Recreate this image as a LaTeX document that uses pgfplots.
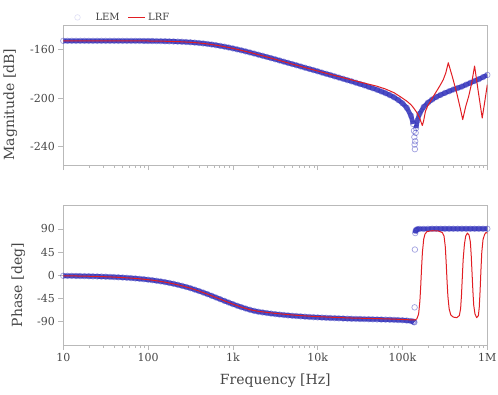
\documentclass[border=0pt]{standalone}
\usepackage{pgfplots}
\pgfplotsset{compat=1.18}
\usepackage{pgfplotstable}
\usepackage{fontspec}
\setmainfont{DejaVu Serif}
\definecolor{lemblue}{RGB}{45,45,185}
\definecolor{lrfred}{RGB}{225,30,35}
\definecolor{framegray}{RGB}{185,185,185}
\definecolor{labelgray}{RGB}{70,70,70}

\pgfplotstableread{
f mag mline ph pline
1e1 -153.00 -153.00 -0.84 -0.84
1.122e1 -153.00 -153.00 -0.94 -0.94
1.259e1 -153.00 -153.00 -1.06 -1.06
1.413e1 -153.00 -153.00 -1.19 -1.19
1.585e1 -153.00 -153.00 -1.34 -1.34
1.778e1 -153.00 -153.00 -1.50 -1.50
1.995e1 -153.01 -153.01 -1.68 -1.68
2.239e1 -153.01 -153.01 -1.89 -1.89
2.512e1 -153.01 -153.01 -2.12 -2.12
2.818e1 -153.01 -153.01 -2.38 -2.38
3.162e1 -153.01 -153.01 -2.66 -2.66
3.548e1 -153.02 -153.02 -2.99 -2.99
3.981e1 -153.02 -153.02 -3.35 -3.35
4.467e1 -153.03 -153.03 -3.76 -3.76
5.012e1 -153.04 -153.04 -4.22 -4.22
5.623e1 -153.04 -153.04 -4.73 -4.73
6.310e1 -153.06 -153.06 -5.31 -5.31
7.079e1 -153.07 -153.07 -5.95 -5.95
7.943e1 -153.09 -153.09 -6.67 -6.67
8.913e1 -153.11 -153.11 -7.47 -7.47
1e2 -153.14 -153.14 -8.37 -8.37
1.122e2 -153.17 -153.17 -9.38 -9.38
1.259e2 -153.21 -153.21 -10.50 -10.50
1.413e2 -153.27 -153.27 -11.74 -11.74
1.585e2 -153.34 -153.34 -13.13 -13.13
1.778e2 -153.42 -153.42 -14.67 -14.67
1.995e2 -153.52 -153.52 -16.37 -16.37
2.239e2 -153.65 -153.65 -18.24 -18.24
2.512e2 -153.80 -153.80 -20.30 -20.30
2.818e2 -153.98 -153.98 -22.53 -22.53
3.162e2 -154.20 -154.20 -24.96 -24.96
3.548e2 -154.47 -154.47 -27.58 -27.58
3.981e2 -154.78 -154.78 -30.37 -30.37
4.467e2 -155.14 -155.14 -33.33 -33.33
5.012e2 -155.56 -155.56 -36.42 -36.42
5.623e2 -156.03 -156.03 -39.62 -39.62
6.310e2 -156.56 -156.56 -42.88 -42.88
7.079e2 -157.15 -157.15 -46.18 -46.18
7.943e2 -157.79 -157.79 -49.45 -49.45
8.913e2 -158.49 -158.49 -52.68 -52.68
1e3 -159.22 -159.22 -55.81 -55.81
1.122e3 -160.01 -160.01 -58.81 -58.81
1.259e3 -160.82 -160.82 -61.65 -61.65
1.413e3 -161.67 -161.67 -64.31 -64.31
1.585e3 -162.55 -162.55 -66.70 -66.70
1.778e3 -163.45 -163.45 -68.80 -68.80
1.995e3 -164.37 -164.37 -70.50 -70.50
2.239e3 -165.30 -165.30 -71.80 -71.80
2.512e3 -166.24 -166.24 -73.00 -73.00
2.818e3 -167.21 -167.21 -74.10 -74.10
3.162e3 -168.17 -168.17 -75.10 -75.10
3.548e3 -169.15 -169.15 -76.00 -76.00
3.981e3 -170.13 -170.13 -76.80 -76.80
4.467e3 -171.11 -171.11 -77.60 -77.60
5.012e3 -172.10 -172.10 -78.30 -78.30
5.623e3 -173.08 -173.08 -78.90 -78.90
6.310e3 -174.07 -174.07 -79.50 -79.50
7.079e3 -175.07 -175.07 -80.10 -80.10
7.943e3 -176.05 -176.05 -80.60 -80.60
8.913e3 -177.06 -177.06 -81.10 -81.10
1e4 -178.05 -178.05 -81.50 -81.50
1.122e4 -179.10 -179.10 -81.90 -81.90
1.259e4 -180.10 -180.10 -82.30 -82.30
1.413e4 -181.10 -181.10 -82.70 -82.70
1.585e4 -182.20 -182.20 -83.00 -83.00
1.778e4 -183.20 -183.20 -83.30 -83.30
1.995e4 -184.20 -184.20 -83.60 -83.60
2.239e4 -185.30 -185.30 -83.90 -83.90
2.512e4 -186.30 -186.30 -84.20 -84.20
2.818e4 -187.40 -187.40 -84.40 -84.40
3.162e4 -188.50 -188.50 -84.60 -84.60
3.548e4 -189.60 -189.60 -84.80 -84.80
3.981e4 -190.80 -190.80 -85.00 -85.00
4.467e4 -192.00 -192.00 -85.20 -85.20
5.012e4 -193.20 -193.20 -85.40 -85.40
5.623e4 -194.60 -194.60 -85.60 -85.60
6.310e4 -196.00 -196.00 -85.80 -85.80
7.079e4 -197.60 -197.60 -86.00 -86.00
7.943e4 -199.40 -199.40 -86.30 -86.30
8.913e4 -201.60 -201.60 -86.60 -86.60
1e5 -204.30 -204.30 -87.00 -87.00
1.122e5 -208.00 -208.00 -87.60 -87.60
1.259e5 -214.50 -214.50 -88.50 -88.50
1.334e5 -221.30 -221.30 -89.50 -89.50
1.365e5 -226.90 nan -90.30 -90.30
1.380e5 -232.10 nan -91.00 -91.00
1.390e5 -238.20 nan -62.00 nan
1.400e5 -242.00 nan 50.00 nan
1.413e5 -235.50 nan 82.00 82.00
1.429e5 -228.60 nan 86.00 86.00
1.445e5 -224.70 -224.70 88.00 88.00
1.496e5 -218.50 -218.50 89.50 89.50
1.585e5 -213.10 -213.10 90.00 90.00
1.778e5 -207.30 -207.30 90.00 90.00
1.995e5 -203.80 -203.80 90.20 90.20
2.239e5 -201.20 -201.20 90.30 90.30
2.512e5 -199.10 -199.10 90.30 90.30
2.818e5 -197.40 -197.40 90.30 90.30
3.162e5 -195.80 -195.80 90.30 90.30
3.548e5 -194.40 -194.40 90.30 90.30
3.981e5 -193.00 -193.00 90.30 90.30
4.467e5 -191.80 -191.80 90.30 90.30
5.012e5 -190.60 -190.60 90.30 90.30
5.623e5 -189.00 -189.00 90.30 90.30
6.310e5 -187.50 -187.50 90.30 90.30
7.079e5 -186.00 -186.00 90.30 90.30
7.943e5 -184.50 -184.50 90.30 90.30
8.913e5 -182.80 -182.80 90.30 90.30
1e6 -181.00 -181.00 90.30 90.30
}\lem

\pgfplotstableread{
f mag
1e1 -153.00
3.162e1 -153.01
1e2 -153.14
1.585e2 -153.34
2.512e2 -153.80
3.162e2 -154.20
3.981e2 -154.78
5.012e2 -155.56
6.310e2 -156.56
7.943e2 -157.79
1e3 -159.22
1.259e3 -160.82
1.585e3 -162.55
1.995e3 -164.37
2.512e3 -166.24
3.162e3 -168.17
3.981e3 -170.13
5.012e3 -172.10
6.310e3 -174.00
7.943e3 -175.90
1e4 -177.80
1.259e4 -179.70
1.585e4 -181.50
1.995e4 -183.30
2.512e4 -185.10
3.162e4 -186.90
3.981e4 -188.60
5.012e4 -190.30
6.310e4 -192.60
7.943e4 -195.60
9.333e4 -198.70
1.122e5 -202.50
1.259e5 -205.50
1.349e5 -208.00
1.479e5 -212.00
1.585e5 -216.00
1.660e5 -220.00
1.714e5 -222.60
1.778e5 -218.50
1.862e5 -211.00
1.995e5 -206.00
2.138e5 -202.70
2.291e5 -199.00
2.512e5 -194.60
2.754e5 -190.00
3.020e5 -185.00
3.236e5 -179.50
3.467e5 -171.00
3.890e5 -183.00
4.365e5 -196.00
4.786e5 -208.00
5.129e5 -217.70
5.559e5 -207.00
6.026e5 -198.70
6.531e5 -188.00
7.079e5 -173.70
7.762e5 -193.00
8.710e5 -216.40
9.333e5 -203.00
1e6 -189.00
}\lrfmag

\pgfplotstableread{
f ph
1e1 -0.84
1.585e1 -1.34
2.512e1 -2.12
3.981e1 -3.35
6.310e1 -5.31
7.943e1 -6.67
1e2 -8.37
1.259e2 -10.50
1.585e2 -13.13
1.995e2 -16.37
2.512e2 -20.30
3.162e2 -24.96
3.981e2 -30.37
5.012e2 -36.42
6.310e2 -42.88
7.943e2 -49.45
1e3 -55.81
1.259e3 -61.65
1.585e3 -66.50
1.995e3 -69.80
2.512e3 -71.80
3.162e3 -73.70
3.981e3 -75.30
5.012e3 -76.80
6.310e3 -78.00
7.943e3 -79.10
1e4 -80.00
1.585e4 -81.50
2.512e4 -82.70
3.981e4 -83.50
6.310e4 -84.30
1e5 -85.50
1.259e5 -86.30
1.413e5 -86.50
1.479e5 -84.00
1.549e5 -75.00
1.603e5 -50.00
1.641e5 -20.00
1.679e5 15.00
1.718e5 45.00
1.778e5 70.00
1.841e5 80.00
1.950e5 85.00
2.239e5 86.50
2.630e5 86.00
2.951e5 83.00
3.090e5 76.00
3.199e5 55.00
3.273e5 25.00
3.350e5 -10.00
3.428e5 -40.00
3.548e5 -65.00
3.715e5 -77.00
3.981e5 -81.00
4.365e5 -82.00
4.677e5 -78.00
4.842e5 -65.00
4.955e5 -40.00
5.070e5 -5.00
5.188e5 30.00
5.370e5 60.00
5.559e5 76.00
5.821e5 82.00
6.095e5 78.00
6.310e5 65.00
6.457e5 40.00
6.607e5 5.00
6.761e5 -30.00
6.918e5 -58.00
7.161e5 -75.00
7.499e5 -82.00
7.852e5 -78.00
8.035e5 -62.00
8.222e5 -30.00
8.414e5 10.00
8.610e5 45.00
8.913e5 70.00
9.333e5 80.00
9.661e5 83.00
1e6 82.00
}\lrfph

\begin{document}
\begin{tikzpicture}
\useasboundingbox (-63.3pt,-49pt) rectangle (434.7pt,345pt);
\begin{axis}[at={(0,180pt)}, height=140pt,
  scale only axis, width=424pt, xmode=log, xmin=10, xmax=1e6,
  clip mode=individual,
  axis line style={draw=framegray, line width=0.8pt},
  tick style={draw=framegray, line width=0.6pt},
  tick align=outside, xtick pos=bottom, ytick pos=left,
  major tick length=5pt, minor tick length=3pt,
  tick label style={font=\fontsize{11}{13}\selectfont, text=labelgray},
  label style={font=\fontsize{14}{16}\selectfont, text=labelgray},
  /pgf/number format/assume math mode=true,
  xtick={10,100,1000,10000,100000,1000000},
  minor xtick={20,30,40,50,60,70,80,90,200,300,400,500,600,700,800,900,2000,3000,4000,5000,6000,7000,8000,9000,20000,30000,40000,50000,60000,70000,80000,90000,200000,300000,400000,500000,600000,700000,800000,900000},
  unbounded coords=jump,
  ymin=-255, ymax=-140, ytick={-160,-200,-240},
  xticklabels={},
  ylabel={Magnitude [dB]},
  ylabel style={at={(axis description cs:-0.125,0.432)}, anchor=center},
  legend style={at={(axis description cs:0,1)}, anchor=south west, xshift=2pt, yshift=-1pt,
    draw=none, fill=none, legend columns=2, font=\fontsize{10}{12}\selectfont,
    /tikz/every even column/.append style={column sep=6pt}},
  legend cell align=left,
]
\addplot[lemblue, line width=4.6pt, opacity=0.85, line join=round, forget plot] table[x=f, y=mline] {\lem};
\addplot[only marks, mark=o, mark size=2.8pt, lemblue, mark options={line width=0.7pt}, opacity=0.45,
  legend image code/.code={\path[draw=none, fill=none] (0pt,-3pt) rectangle (25pt,3pt);
    \draw[only marks, mark=o, mark size=2.8pt, draw=lemblue!30, line width=0.7pt] plot coordinates {(9pt,0pt)};}] table[x=f, y=mag] {\lem};
\addlegendentry{\textcolor{labelgray}{LEM}}
\addplot[lrfred, line width=1pt, line join=round,
  legend image post style={draw=lrfred, line width=1.4pt}] table[x=f, y=mag] {\lrfmag};
\addlegendentry{\textcolor{labelgray}{LRF}}
\end{axis}
\begin{axis}[at={(0,0)}, height=139.3pt,
  scale only axis, width=424pt, xmode=log, xmin=10, xmax=1e6,
  clip mode=individual,
  axis line style={draw=framegray, line width=0.8pt},
  tick style={draw=framegray, line width=0.6pt},
  tick align=outside, xtick pos=bottom, ytick pos=left,
  major tick length=5pt, minor tick length=3pt,
  tick label style={font=\fontsize{11}{13}\selectfont, text=labelgray},
  label style={font=\fontsize{14}{16}\selectfont, text=labelgray},
  /pgf/number format/assume math mode=true,
  xtick={10,100,1000,10000,100000,1000000},
  minor xtick={20,30,40,50,60,70,80,90,200,300,400,500,600,700,800,900,2000,3000,4000,5000,6000,7000,8000,9000,20000,30000,40000,50000,60000,70000,80000,90000,200000,300000,400000,500000,600000,700000,800000,900000},
  unbounded coords=jump,
  ymin=-135, ymax=135, ytick={-90,-45,0,45,90},
  xticklabels={10,100,1k,10k,100k,1M},
  xlabel={Frequency [Hz]},
  xlabel style={at={(axis description cs:0.5,-0.258)}, anchor=center},
  ylabel={Phase [deg]},
  ylabel style={at={(axis description cs:-0.106,0.43)}, anchor=center},
]
\addplot[lemblue, line width=4.6pt, opacity=0.85, line join=round] table[x=f, y=pline] {\lem};
\addplot[only marks, mark=o, mark size=2.8pt, lemblue, mark options={line width=0.7pt}, opacity=0.45] table[x=f, y=ph] {\lem};
\addplot[lrfred, line width=1pt, line join=round] table[x=f, y=ph] {\lrfph};
\end{axis}
\end{tikzpicture}
\end{document}
